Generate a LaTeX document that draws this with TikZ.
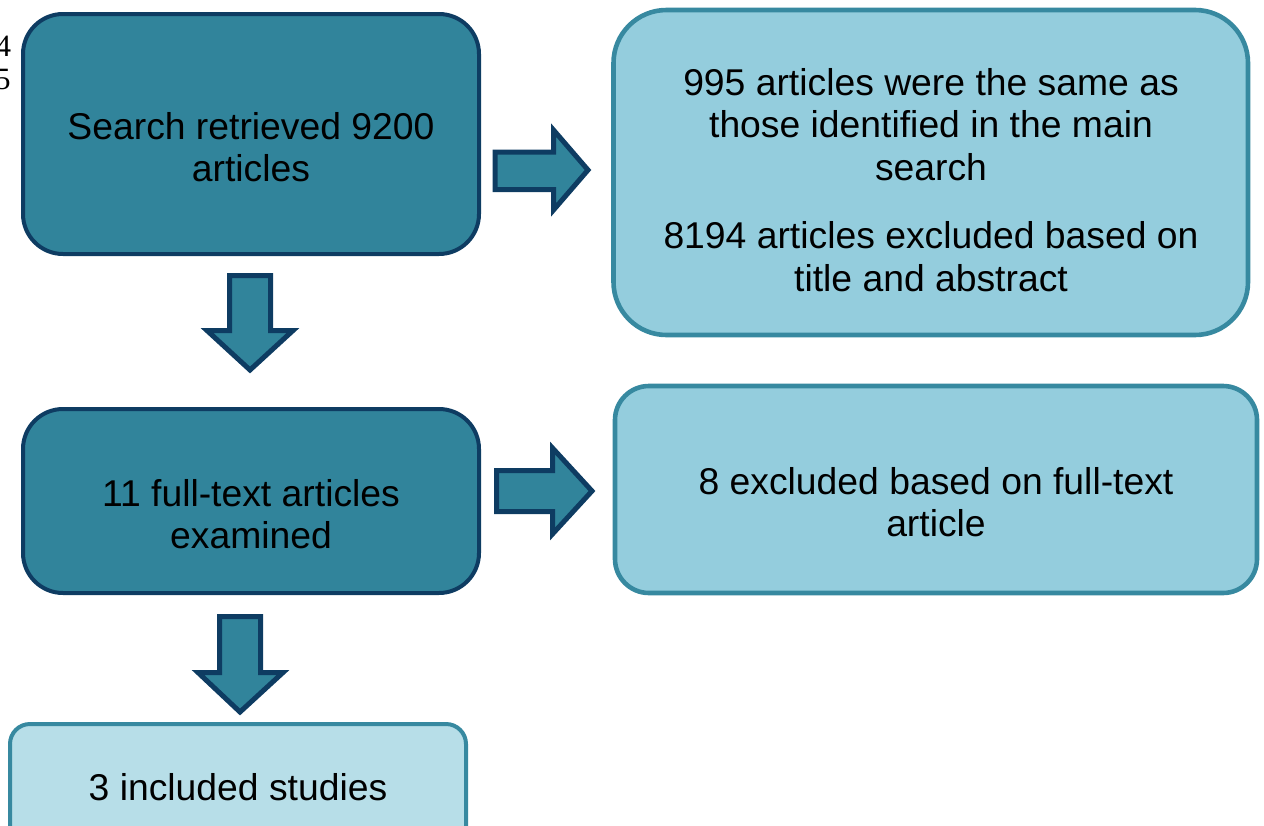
\documentclass[tikz,border=0pt]{standalone}
\usepackage{fontspec}
\setmainfont{Liberation Sans}
\newfontfamily\numfont{Liberation Serif}
\usetikzlibrary{fit}
\definecolor{darkfill}{HTML}{31849B}
\definecolor{darkline}{HTML}{0E3C62}
\definecolor{lightfill}{HTML}{94CDDD}
\definecolor{lightline}{HTML}{3789A0}
\definecolor{palefill}{HTML}{B7DEE8}
\tikzset{
  darkbox/.style={rectangle, fill=darkfill, draw=darkline, line width=2pt, inner sep=0pt},
  lightbox/.style={rectangle, fill=lightfill, draw=lightline, line width=2.3pt, inner sep=0pt},
  palebox/.style={rectangle, fill=palefill, draw=lightline, line width=2pt, inner sep=0pt},
  txt/.style={align=center, font=\fontsize{18.65}{21.2}\selectfont, inner sep=0pt},
  blockarrow/.style={fill=darkfill, draw=darkline, line width=2.5pt, line join=miter},
  linenum/.style={font=\numfont\fontsize{15.5}{17}\selectfont, anchor=east, inner sep=0pt}
}
\begin{document}
\begin{tikzpicture}[x=0.5pt,y=-0.5pt]
\useasboundingbox (0,0) rectangle (1264,825);
% line numbers
\node[linenum] (n4) at (11.5,46) {4};
\node[linenum] (n5) at (11,79) {5};
% boxes
\node[darkbox, rounded corners=20pt, fit={(23,14)(479,254)}] (a) {};
\node[lightbox, rounded corners=26.5pt, fit={(613.5,10)(1248,335)}] (b) {};
\node[darkbox, rounded corners=20pt, fit={(23,409)(479,593)}] (c) {};
\node[lightbox, rounded corners=17pt, fit={(615,386)(1257,593)}] (d) {};
\node[palebox, rounded corners=10pt, fit={(10,724)(466,850)}] (e) {};
% texts
\node[txt] (ta) at (251,147) {Search retrieved 9200\\articles};
\node[txt] (tb) at (931,180) {995 articles were the same as\\those identified in the main\\search\\[13pt]8194 articles excluded based on\\title and abstract};
\node[txt] (tc) at (251,514) {11 full-text articles\\examined};
\node[txt] (td) at (936,502) {8 excluded based on full-text\\article};
\node[txt] (te) at (238,787) {3 included studies};
% block arrows
\draw[blockarrow] (495,152) -- (553.5,152) -- (553.5,130) -- (588,170) -- (553.5,210) -- (553.5,189.5) -- (495,189.5) -- cycle;
\draw[blockarrow] (496.5,470.5) -- (552.5,470.5) -- (552.5,448) -- (592,491) -- (552.5,534) -- (552.5,511.5) -- (496.5,511.5) -- cycle;
\draw[blockarrow] (229.5,275.5) -- (270.5,275.5) -- (270.5,330.5) -- (293,330.5) -- (250,370) -- (207,330.5) -- (229.5,330.5) -- cycle;
\draw[blockarrow] (219.5,616.5) -- (260.5,616.5) -- (260.5,672.5) -- (283,672.5) -- (240,712) -- (198,672.5) -- (219.5,672.5) -- cycle;
\end{tikzpicture}
\end{document}
